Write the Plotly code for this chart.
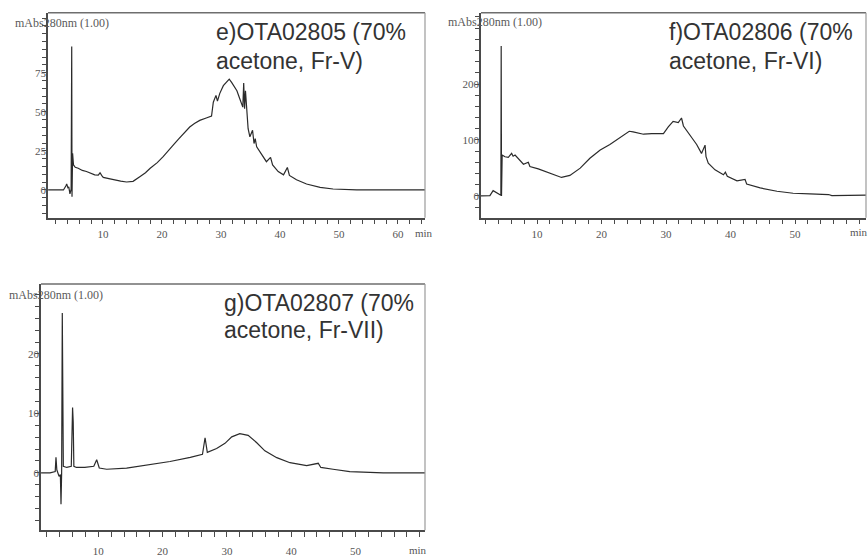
import plotly.graph_objects as go

# ---------------------------------------------------------------------------
# HPLC traces at 280 nm: retention time (min) vs. absorbance (mAbs)
# ---------------------------------------------------------------------------

# e) OTA02805, 70% acetone, Fr-V
e_time = [0.7, 3.3, 3.7, 3.85, 4.05, 4.2, 4.4, 4.6, 4.7, 4.75, 4.85, 5.0, 5.3, 5.8,
          6.5, 7.2, 7.9, 8.6, 9.2, 9.5, 9.8, 10.05, 11.0, 11.75, 13.0, 14.0, 15.1,
          16.3, 17.2, 18.0, 19.2, 20.2, 21.0, 21.9, 22.8, 23.6, 24.7, 25.5, 26.4,
          27.5, 28.4, 28.7, 29.15, 29.4, 29.8, 30.4, 31.25, 31.4, 31.8, 32.7, 33.2,
          33.7, 33.85, 34.0, 34.15, 34.35, 34.6, 34.9, 35.35, 35.6, 35.8, 36.05,
          36.9, 37.7, 38.4, 38.75, 39.7, 40.6, 41.25, 41.6, 42.8, 44.5, 46.8, 49.0,
          53.0, 64.6]
e_abs = [0, 0, 2.5, 3.8, 1.5, 2.0, -2.5, 0.5, 91.8, -4.4, 23.4, 16.0, 14.5, 13.9,
         12.5, 11.8, 10.8, 9.7, 9.5, 11.0, 9.2, 8.0, 7.2, 6.5, 5.6, 5.1, 5.5,
         8.6, 11.0, 13.9, 17.5, 21.3, 24.5, 28.7, 32.5, 36.0, 40.3, 42.5, 44.5,
         46.0, 47.3, 56.1, 60.5, 56.8, 61.8, 66.7, 69.8, 70.9, 68.8, 63.5, 58.2,
         53.0, 68.4, 51.9, 63.5, 49.8, 39.2, 34.0, 38.2, 29.7, 32.9, 27.6,
         22.4, 18.1, 20.9, 16.0, 11.8, 9.7, 14.4, 9.3, 6.5, 3.8, 1.7, 0.6,
         0, 0]

# f) OTA02806, 70% acetone, Fr-VI
f_time = [1.3, 2.7, 3.2, 3.6, 4.15, 4.4, 4.45, 4.5, 4.55, 4.6, 5.04, 5.55, 6.07,
          6.3, 6.6, 7.1, 7.9, 8.65, 8.9, 10.2, 11.25, 12.5, 13.8, 15.1, 16.7, 18.2,
          19.8, 21.3, 22.9, 24.3, 24.9, 26.5, 27.8, 29.6, 30.35, 31.1, 31.9, 32.4,
          32.7, 33.7, 34.75, 35.5, 36.05, 36.2, 36.55, 37.6, 38.9, 39.2, 39.5,
          41.0, 42.25, 42.5, 44.6, 47.2, 49.7, 52.3, 55.2, 55.7, 61.0]
f_abs = [0, 0.5, 9.4, 7.0, 3.5, 1.2, 268, 0, 93.8, 73, 70, 69, 76,
         71, 73, 66, 56.6, 60.2, 52.5, 48.4, 43.7, 37.7, 33.0, 36.6, 49.6, 67.3,
         82.0, 92.0, 103.8, 115.6, 114.4, 110.3, 111.5, 111.5, 123.3, 133.3, 131.0, 139.3,
         125.0, 108.5, 92.0, 76.0, 90.8, 70.3, 58.4, 46.5, 37.7, 42.5, 35.0,
         27.0, 29.5, 21.2, 14.2, 8.3, 4.7, 3.5, 2.4, 0.6, 1.2]

# g) OTA02807, 70% acetone, Fr-VII
g_time = [1.1, 2.5, 3.3, 3.42, 3.55, 3.9, 4.1, 4.2, 4.3, 4.4, 4.56, 5.1, 5.8, 5.95,
          6.0, 6.1, 6.2, 6.6, 7.9, 9.3, 9.75, 10.15, 11.3, 14.4, 17.5, 21.15, 24.3,
          26.2, 26.6, 26.95, 28.4, 29.7, 30.75, 32.0, 33.3, 34.6, 35.9, 37.75, 39.8,
          42.4, 44.2, 44.6, 46.5, 49.1, 54.3, 60.8]
g_abs = [0, 0, 0.2, 2.6, 0.5, -0.6, -0.3, -5.3, 0, 26.9, 1.1, 0.9, 1.1, 8.8,
         11.0, 8.5, 1.1, 0.9, 0.9, 1.1, 2.2, 0.8, 0.6, 0.8, 1.3, 1.9, 2.6,
         3.1, 5.9, 3.45, 4.1, 4.95, 6.05, 6.6, 6.3, 5.1, 3.7, 2.55, 1.7,
         1.2, 1.6, 0.9, 0.6, 0.2, 0, 0]

# tick labels
e_xticks = [10, 20, 30, 40, 50, 60]
f_xticks = [10, 20, 30, 40, 50]
g_xticks = [10, 20, 30, 40, 50]
e_yticks = [0, 25, 50, 75]
f_yticks = [0, 100, 200]
g_yticks = [0, 10, 20]

e_title = ["e)OTA02805 (70%", "acetone, Fr-V)"]
f_title = ["f)OTA02806 (70%", "acetone, Fr-VI)"]
g_title = ["g)OTA02807 (70%", "acetone, Fr-VII)"]
detector = "mAbs280nm (1.00)"
time_unit = "min"

# ---------------------------------------------------------------------------
W, H = 868, 557
SERIF = "Liberation Serif, DejaVu Serif, serif"
SANS = "Liberation Sans, Arial, sans-serif"
INK = "#2b2b2b"
AXIS = "#4a4a4a"
LABEL = "#555555"


def fx(p):
    return p / W


def fy(p):
    return 1 - p / H


fig = go.Figure()
for t, v, xa, ya in [(e_time, e_abs, "x", "y"),
                     (f_time, f_abs, "x2", "y2"),
                     (g_time, g_abs, "x3", "y3")]:
    fig.add_trace(go.Scatter(x=t, y=v, xaxis=xa, yaxis=ya, mode="lines",
                             line=dict(color=INK, width=1.2), showlegend=False,
                             hoverinfo="skip"))


def xaxis(domain, rng, ticks, anchor, standoff=0):
    return dict(domain=domain, range=rng, anchor=anchor,
                tickmode="array", tickvals=ticks, ticktext=[str(v) for v in ticks],
                ticks="outside", ticklen=5, tickwidth=1, tickcolor=AXIS,
                minor=dict(dtick=2, tick0=0, ticks="outside", ticklen=5,
                           tickwidth=1, tickcolor=AXIS),
                showline=True, linecolor=AXIS, linewidth=1.5,
                showgrid=False, zeroline=False, ticklabelstandoff=standoff,
                tickfont=dict(family=SERIF, size=11, color=LABEL), fixedrange=True)


def yaxis(domain, rng, ticks, minor_step, anchor):
    return dict(domain=domain, range=rng, anchor=anchor,
                tickmode="array", tickvals=ticks, ticktext=[str(v) for v in ticks],
                ticks="outside", ticklen=4, tickwidth=1, tickcolor=AXIS,
                minor=dict(dtick=minor_step, tick0=0, ticks="outside", ticklen=4,
                           tickwidth=1, tickcolor=AXIS),
                showline=True, linecolor=AXIS, linewidth=1.5,
                showgrid=False, zeroline=False, ticklabelstandoff=-6,
                tickfont=dict(family=SERIF, size=11, color=LABEL), fixedrange=True)


top_row = [fy(220), fy(13)]
fig.update_layout(
    width=W, height=H,
    margin=dict(l=0, r=0, t=0, b=0),
    paper_bgcolor="white", plot_bgcolor="white",
    xaxis=xaxis([fx(48), fx(425)], [0.68, 64.58], e_xticks, "y"),
    yaxis=yaxis(top_row, [-17.7, 113.3], e_yticks, 5, "x"),
    xaxis2=xaxis([fx(481), fx(866)], [1.32, 61.0], f_xticks, "y2"),
    yaxis2=yaxis(top_row, [-38.9, 327.4], f_yticks, 20, "x2"),
    xaxis3=xaxis([fx(41), fx(425)], [1.09, 60.8], g_xticks, "y3", standoff=5),
    yaxis3=yaxis([fy(536), fy(287)], [-9.67, 31.8], g_yticks, 2, "x3"),
)

# upper and right frame edges of each chromatogram
shapes = []
for xa, ya in [("x", "y"), ("x2", "y2"), ("x3", "y3")]:
    shapes.append(dict(type="line", xref=f"{xa} domain", yref=f"{ya} domain",
                       x0=0, x1=1, y0=1, y1=1, line=dict(color="#6e6e6e", width=1.5)))
    shapes.append(dict(type="line", xref=f"{xa} domain", yref=f"{ya} domain",
                       x0=1, x1=1, y0=0, y1=1, line=dict(color="#9a9a9a", width=1.2)))
fig.update_layout(shapes=shapes)

annotations = []
# sample titles, two lines each
for lines, left, base1, base2 in [(e_title, 214, 40.7, 69.3),
                                  (f_title, 667, 40.7, 69.3),
                                  (g_title, 222, 314.0, 341.7)]:
    for txt, base in zip(lines, (base1, base2)):
        annotations.append(dict(text=txt, xref="paper", yref="paper",
                                x=fx(left), y=fy(base - 8), xanchor="left",
                                yanchor="middle", showarrow=False,
                                font=dict(family=SANS, size=23, color="#333333")))
# detector header
for left, mid in [(13, 23), (446, 22), (7, 298)]:
    annotations.append(dict(text=detector, xref="paper", yref="paper",
                            x=fx(left), y=fy(mid), xanchor="left", yanchor="middle",
                            showarrow=False,
                            font=dict(family=SERIF, size=12, color="#5a5a5a")))
# time unit at the end of each time axis
for cx, cy in [(424, 236), (859, 235), (418, 556)]:
    annotations.append(dict(text=time_unit, xref="paper", yref="paper",
                            x=fx(cx), y=fy(cy), xanchor="center", yanchor="middle",
                            showarrow=False,
                            font=dict(family=SERIF, size=11, color=LABEL)))
fig.update_layout(annotations=annotations)

fig.write_html("out.html")
